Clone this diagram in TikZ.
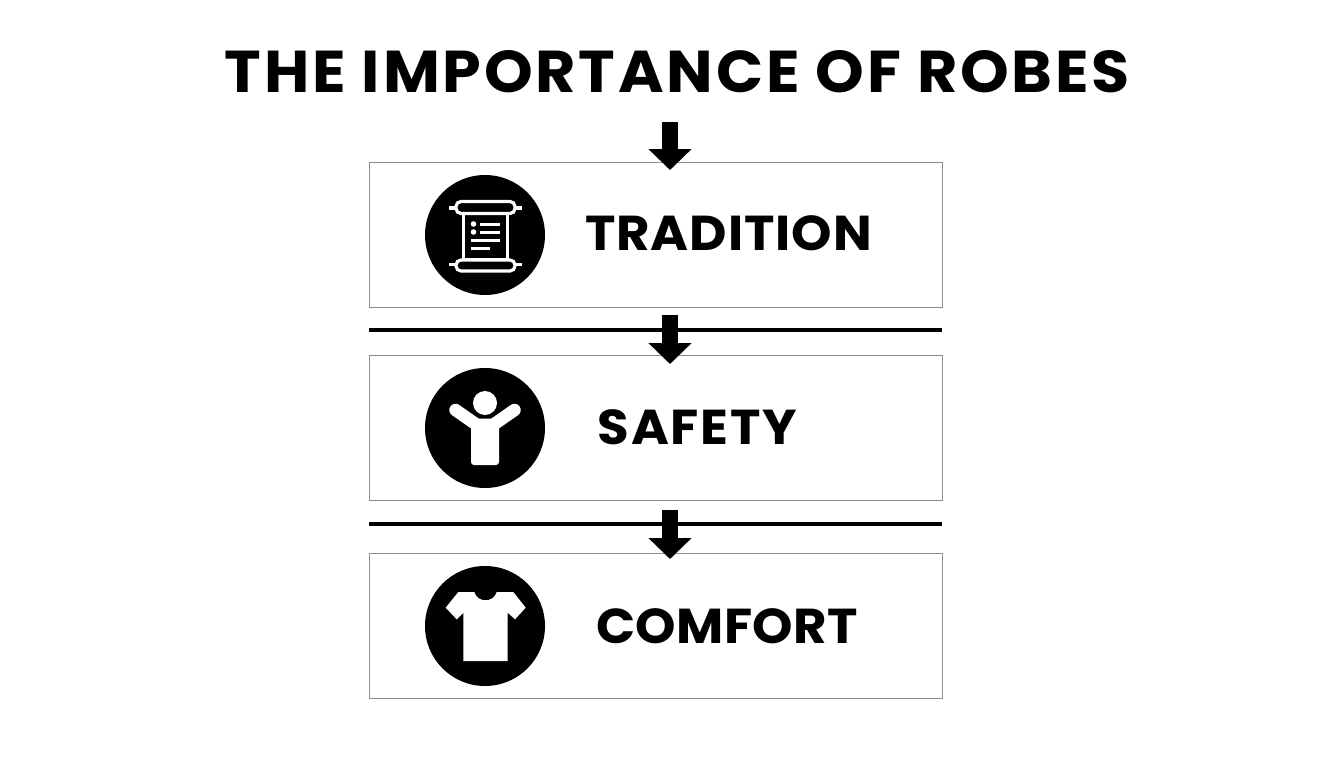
\documentclass[tikz,border=0pt]{standalone}
\usepackage{fontspec}
\setmainfont{Poppins}[BoldFont={Poppins Bold},BoldFeatures={FakeStretch=1.05}]
\usetikzlibrary{arrows.meta}
\tikzset{
  panel/.style={draw=black!45,line width=0.9pt,fill=white,minimum width=573pt,minimum height=145pt,inner sep=0pt,outer sep=0pt},
  disc/.style={circle,fill=black,minimum size=120pt,inner sep=0pt,outer sep=0pt},
  titletext/.style={font=\bfseries\fontsize{59}{59}\selectfont\addfontfeatures{LetterSpace=4.8},text=black,inner sep=0pt},
  label/.style={font=\bfseries\fontsize{49}{49}\selectfont,text=black,inner sep=0pt},
  rule/.style={line width=3.4pt,black},
  flow/.style={line width=16pt,black,-{Triangle[width=42pt,length=21pt,sep=0pt]}},
  ink/.style={white,line width=3.2pt}
}
\begin{document}
\begin{tikzpicture}[x=1pt,y=-1pt]
\useasboundingbox[fill=white] (0,0) rectangle (1344,768);
\node[titletext] (title) at (677.5,72) {THE IMPORTANCE OF ROBES};
\node[panel] (p1) at (655.5,234.5) {};
\node[panel] (p2) at (655.5,427.5) {};
\node[panel] (p3) at (655.5,625.5) {};
\coordinate (r1a) at (369,329.9); \coordinate (r1b) at (942,329.9);
\coordinate (r2a) at (369,524); \coordinate (r2b) at (942,524);
\draw[rule] (r1a) -- (r1b);
\draw[rule] (r2a) -- (r2b);
\coordinate (a1s) at (670,122); \coordinate (a1e) at (670,170);
\coordinate (a2s) at (670,315); \coordinate (a2e) at (670,364);
\coordinate (a3s) at (670,510); \coordinate (a3e) at (670,559);
\draw[flow] (a1s) -- (a1e);
\draw[flow] (a2s) -- (a2e);
\draw[flow] (a3s) -- (a3e);
\node[disc] (d1) at (485,235) {};
\node[disc] (d2) at (485,428) {};
\node[disc] (d3) at (485,626) {};
\node[label] (t1) at (728.5,233) {\addfontfeatures{LetterSpace=2}TRADITION};
\node[label] (t2) at (697.5,427) {\addfontfeatures{LetterSpace=3.7}SAFETY};
\node[label] (t3) at (727,626) {\addfontfeatures{LetterSpace=0.7}COMFORT};
% scroll
\draw[ink] (463.5,213) rectangle (507.5,260);
\draw[ink,line width=3.6pt] (449,208) -- (456,208) (515,208) -- (522,208) (449,264.5) -- (456,264.5) (515,264.5) -- (522,264.5);
\draw[ink,fill=black,rounded corners=5pt] (456,201.5) rectangle (515,213.5);
\draw[ink,fill=black,rounded corners=5pt] (456,260) rectangle (515,271);
\fill[white] (473.5,224) circle (2.8) (473.5,232) circle (2.8);
\draw[ink,line width=3pt] (480,224) -- (500,224) (480,232) -- (500,232) (471,240) -- (500,240) (471,248) -- (490,248);
% person
\fill[white] (485,403) circle (12);
\draw[white,line width=12.5pt,line cap=round] (455.5,410) -- (477,425);
\draw[white,line width=12.5pt,line cap=round] (514.5,410) -- (493,425);
\fill[white,rounded corners=3pt] (471,418.5) -- (499,418.5) -- (499,465) -- (471,465) -- cycle;
% shirt
\fill[white] (474.3,592) -- (458.3,592) -- (445.7,607.7) -- (456.7,619.3) -- (463.3,612.7) -- (463.3,661) -- (507.7,661) -- (507.7,612.7) -- (515,619.3) -- (525.7,607.7) -- (513.3,592) -- (496.7,592) .. controls (494,603) and (477,603) .. (474.3,592) -- cycle;
\end{tikzpicture}
\end{document}
